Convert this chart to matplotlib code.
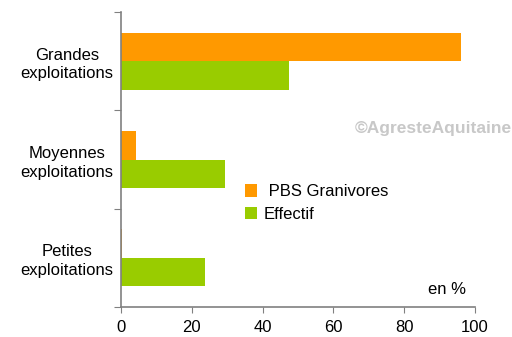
import matplotlib
matplotlib.use("Agg")
import matplotlib.pyplot as plt
import numpy as np

plt.rcParams['font.family'] = ['Liberation Sans', 'DejaVu Sans']

categories = ["Grandes\nexploitations", "Moyennes\nexploitations", "Petites\nexploitations"]
pbs_granivores = [96.0, 4.2, 0.2]
effectif = [47.4, 29.4, 23.7]
xticks = [0, 20, 40, 60, 80, 100]

FS = 12
fig = plt.figure(figsize=(5.12, 3.37), dpi=100)
ax = fig.add_axes([121/512, 1 - 307/337, (475-121)/512, (307-12)/337])

y = np.arange(len(categories))
h = 0.29
ax.barh(y - h/2, pbs_granivores, height=h, color="#ff9900", label=" PBS Granivores")
ax.barh(y + h/2, effectif, height=h, color="#99cc00", label="Effectif")

ax.set_ylim(2.5, -0.5)
ax.set_xlim(0, 100)
ax.set_xticks(xticks)
ax.set_yticks([-0.5, 0.5, 1.5, 2.5])
ax.set_yticklabels([])
ax.set_yticks(y, minor=True)
ax.set_yticklabels(categories, minor=True, fontsize=FS, linespacing=1.3)
ax.tick_params(axis='y', which='major', length=5, color="#808080", direction='out')
ax.tick_params(axis='x', length=4, color="#808080", labelsize=FS, pad=5)
for lab in ax.get_yticklabels(minor=True):
    lab.set_horizontalalignment('center')
    lab.set_multialignment('center')
ax.tick_params(axis='y', which='minor', length=0, pad=39)

for s in ['top', 'right']:
    ax.spines[s].set_visible(False)
for s in ['left', 'bottom']:
    ax.spines[s].set_color("#808080")
    ax.spines[s].set_linewidth(1.2)

leg = ax.legend(loc='upper left', bbox_to_anchor=(0.35, 0.416), frameon=False,
                fontsize=FS, handlelength=0.75, handleheight=0.75, handletextpad=0.4,
                labelspacing=0.45, borderaxespad=0, borderpad=0)

ax.text(0.975, 0.035, "en %", transform=ax.transAxes, ha='right', va='bottom', fontsize=FS)
fig.text(1.0, 1 - 128/337, "©AgresteAquitaine", ha='right', va='center',
         fontsize=12.5, fontweight='bold', color="#c8c8c8")

fig.savefig("out.png", dpi=100)
